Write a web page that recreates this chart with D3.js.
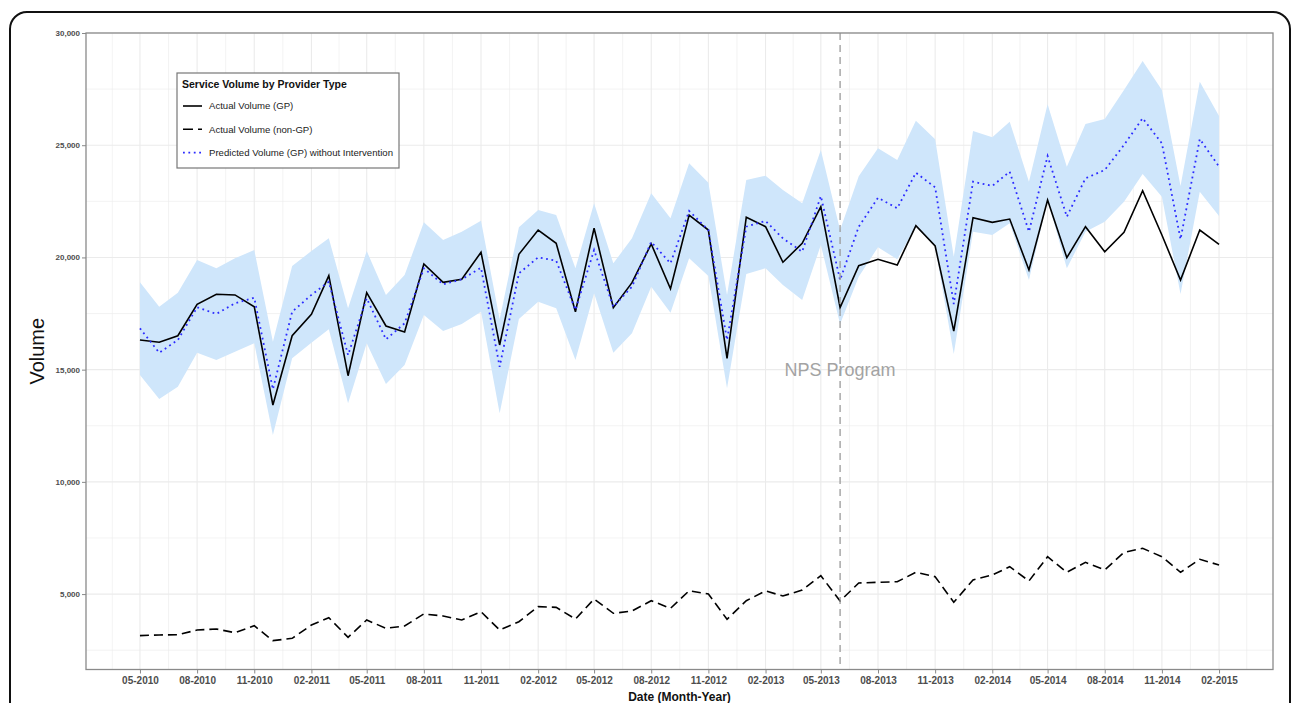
<!DOCTYPE html>
<html>
<head>
<meta charset="utf-8">
<script src="https://cdn.jsdelivr.net/npm/d3@7"></script>
<style>
  body { margin: 0; background: #fff; }
  svg { display: block; font-family: "Liberation Sans", Arial, sans-serif; }
  .grid line { stroke: #ebebeb; }
  .axis text { fill: #4d4d4d; font-weight: bold; }
  .axis line, .axis path { stroke: #888; }
</style>
</head>
<body>
<div id="chart"></div>
<script>
// monthly observations
var months = [
  "2010-05", "2010-06", "2010-07", "2010-08", "2010-09", "2010-10", "2010-11", "2010-12",
  "2011-01", "2011-02", "2011-03", "2011-04", "2011-05", "2011-06", "2011-07", "2011-08", "2011-09", "2011-10", "2011-11", "2011-12",
  "2012-01", "2012-02", "2012-03", "2012-04", "2012-05", "2012-06", "2012-07", "2012-08", "2012-09", "2012-10", "2012-11", "2012-12",
  "2013-01", "2013-02", "2013-03", "2013-04", "2013-05", "2013-06", "2013-07", "2013-08", "2013-09", "2013-10", "2013-11", "2013-12",
  "2014-01", "2014-02", "2014-03", "2014-04", "2014-05", "2014-06", "2014-07", "2014-08", "2014-09", "2014-10", "2014-11", "2014-12",
  "2015-01", "2015-02"
];

var gpActual = [
  16320, 16220, 16510, 17910, 18360, 18330, 17805, 13425, 16510, 17470,
  19190, 14730, 18430, 16945, 16680, 19710, 18890, 19025, 20230, 16100,
  20140, 21220, 20630, 17580, 21300, 17760, 18875, 20600, 18605, 21890,
  21220, 15505, 21790, 21370, 19785, 20630, 22260, 17770, 19630, 19920,
  19660, 21415, 20510, 16720, 21770, 21565, 21710, 19440, 22560, 19990,
  21370, 20255, 21120, 22975, 21000, 18995, 21220, 20585
];

var nonGpActual = [
  3150, 3180, 3190, 3400, 3445, 3280, 3590, 2925, 3030, 3620,
  3950, 3075, 3845, 3475, 3580, 4115, 4025, 3845, 4215, 3400,
  3770, 4440, 4410, 3890, 4780, 4145, 4245, 4705, 4365, 5150,
  5005, 3875, 4705, 5140, 4915, 5180, 5820, 4690, 5495, 5525,
  5550, 5970, 5775, 4635, 5630, 5850, 6220, 5585, 6665, 5970,
  6415, 6075, 6860, 7040, 6665, 5970, 6550, 6295
];

var gpPredicted = [
  16840, 15755, 16320, 17780, 17480, 17960, 18205, 14125, 17580, 18330,
  18920, 15650, 18180, 16350, 17065, 19515, 18800, 19025, 19540, 15130,
  19290, 20005, 19855, 17660, 20330, 17805, 18695, 20690, 19740, 22070,
  21220, 16320, 21370, 21625, 20850, 20255, 22735, 18995, 21370, 22660,
  22190, 23775, 23125, 17925, 23375, 23185, 23820, 21145, 24520, 21815,
  23525, 23895, 25010, 26200, 25085, 20810, 25275, 24045
];

var predUpper = [
  18890, 17805, 18430, 19885, 19515, 19960, 20330, 16245, 19620, 20285,
  20850, 17735, 20285, 18325, 19215, 21565, 20775, 21145, 21635, 17245,
  21345, 22115, 21890, 19515, 22410, 19740, 20850, 22860, 21745, 24195,
  23330, 18325, 23450, 23640, 23005, 22410, 24785, 21220, 23615, 24860,
  24340, 26090, 25265, 20035, 25635, 25355, 26050, 23375, 26825, 24045,
  25945, 26170, 27460, 28750, 27460, 23185, 27830, 26300
];

var predLower = [
  14760, 13690, 14240, 15755, 15430, 15800, 16175, 12090, 15505, 16200,
  16800, 13500, 16175, 14360, 15205, 17435, 16720, 17035, 17580, 13055,
  17255, 18025, 17735, 15430, 18400, 15755, 16620, 18695, 17540, 19960,
  19175, 14170, 19260, 19515, 18770, 18105, 20555, 17035, 19140, 20455,
  19915, 21380, 20480, 15700, 21145, 21000, 21520, 18995, 22560, 19515,
  21145, 21590, 22485, 23715, 22705, 18370, 22930, 21845
];

var xTickLabels = [
  "05-2010", "08-2010", "11-2010", "02-2011", "05-2011", "08-2011", "11-2011",
  "02-2012", "05-2012", "08-2012", "11-2012", "02-2013", "05-2013", "08-2013",
  "11-2013", "02-2014", "05-2014", "08-2014", "11-2014", "02-2015"
];
var yTicks = [5000, 10000, 15000, 20000, 25000, 30000];
var yMinor = [2500, 7500, 12500, 17500, 22500, 27500];
var interventionMonth = "2013-06";

var legendItems = [
  { label: "Actual Volume (GP)", color: "#000", dash: null, width: 1.6 },
  { label: "Actual Volume (non-GP)", color: "#000", dash: "10,5", width: 1.6 },
  { label: "Predicted Volume (GP) without Intervention", color: "#2b2bff", dash: "1.8,3.6", width: 1.8 }
];

var W = 1293, H = 703;
var margin = { top: 33, right: 20, bottom: 33.5, left: 86 },
    width = 1273 - margin.left,
    height = 669.5 - margin.top;

var parseMonth = d3.utcParse("%Y-%m");
var parseTick = d3.utcParse("%m-%Y");

var data = months.map(function (m, i) {
  return {
    date: parseMonth(m),
    gp: gpActual[i],
    nongp: nonGpActual[i],
    pred: gpPredicted[i],
    hi: predUpper[i],
    lo: predLower[i]
  };
});

// ggplot-style 5% expansion of the date range
var ext = d3.extent(data, d => d.date);
var pad = (ext[1] - ext[0]) * 0.05;
var x = d3.scaleUtc()
    .domain([new Date(+ext[0] - pad), new Date(+ext[1] + pad)])
    .range([0, width]);

var y = d3.scaleLinear()
    .domain([1640, 30000])
    .range([height, 0]);

var svg = d3.select('#chart')
    .append('svg')
    .attr('width', W)
    .attr('height', H);

// outer figure frame
svg.append('rect')
    .attr('x', 10)
    .attr('y', 12)
    .attr('width', 1280)
    .attr('height', 740)
    .attr('rx', 17)
    .attr('fill', 'none')
    .attr('stroke', '#111')
    .attr('stroke-width', 2);

var plot = svg.append('g')
    .attr('transform', `translate(${margin.left}, ${margin.top})`);

// grid
var tickDates = xTickLabels.map(parseTick);
var minorDates = [];
var before = d3.utcMonth.offset(tickDates[0], -3);
var after = d3.utcMonth.offset(tickDates[tickDates.length - 1], 3);
var allMajor = [before].concat(tickDates, [after]);
for (var i = 0; i < allMajor.length - 1; i++) {
  minorDates.push(new Date((+allMajor[i] + +allMajor[i + 1]) / 2));
}
minorDates = minorDates.filter(d => x(d) > 0 && x(d) < width);

var grid = plot.append('g').attr('class', 'grid');
grid.selectAll('.ymin')
    .data(yMinor.filter(v => y(v) > 0 && y(v) < height))
    .enter().append('line')
    .attr('x1', 0).attr('x2', width)
    .attr('y1', d => y(d)).attr('y2', d => y(d))
    .attr('stroke-width', 0.6);
grid.selectAll('.xmin')
    .data(minorDates)
    .enter().append('line')
    .attr('y1', 0).attr('y2', height)
    .attr('x1', d => x(d)).attr('x2', d => x(d))
    .attr('stroke-width', 0.6);
grid.selectAll('.ymaj')
    .data(yTicks)
    .enter().append('line')
    .attr('x1', 0).attr('x2', width)
    .attr('y1', d => y(d)).attr('y2', d => y(d))
    .attr('stroke-width', 1.1);
grid.selectAll('.xmaj')
    .data(tickDates)
    .enter().append('line')
    .attr('y1', 0).attr('y2', height)
    .attr('x1', d => x(d)).attr('x2', d => x(d))
    .attr('stroke-width', 1.1);

// prediction interval
var band = d3.area()
    .x(d => x(d.date))
    .y0(d => y(d.lo))
    .y1(d => y(d.hi));

plot.append('path')
    .datum(data)
    .attr('d', band)
    .attr('fill', '#cfe6fb');

var line = function (key) {
  return d3.line().x(d => x(d.date)).y(d => y(d[key]));
};

plot.append('path')
    .datum(data)
    .attr('d', line('gp'))
    .attr('fill', 'none')
    .attr('stroke', legendItems[0].color)
    .attr('stroke-width', legendItems[0].width);

plot.append('path')
    .datum(data)
    .attr('d', line('nongp'))
    .attr('fill', 'none')
    .attr('stroke', legendItems[1].color)
    .attr('stroke-width', legendItems[1].width)
    .attr('stroke-dasharray', "9,5");

plot.append('path')
    .datum(data)
    .attr('d', line('pred'))
    .attr('fill', 'none')
    .attr('stroke', legendItems[2].color)
    .attr('stroke-width', legendItems[2].width)
    .attr('stroke-dasharray', legendItems[2].dash);

// intervention marker
var xi = x(parseMonth(interventionMonth));
plot.append('line')
    .attr('x1', xi).attr('x2', xi)
    .attr('y1', 0).attr('y2', height)
    .attr('stroke', '#9a9a9a')
    .attr('stroke-width', 1.3)
    .attr('stroke-dasharray', '7,5');

plot.append('text')
    .attr('x', xi)
    .attr('y', y(15000))
    .attr('dy', '0.35em')
    .attr('text-anchor', 'middle')
    .attr('font-size', 18)
    .attr('fill', '#a3a3a3')
    .text('NPS Program');

// axes
var xAxis = d3.axisBottom(x)
    .tickValues(tickDates)
    .tickFormat(d3.utcFormat('%m-%Y'))
    .tickSize(4)
    .tickPadding(3);
var yAxis = d3.axisLeft(y)
    .tickValues(yTicks)
    .tickFormat(d3.format(','))
    .tickSize(4)
    .tickPadding(2);

var gx = plot.append('g')
    .attr('class', 'axis x')
    .attr('transform', `translate(0, ${height})`)
    .call(xAxis);
gx.select('.domain').remove();
gx.selectAll('text').attr('font-size', 10);

var gy = plot.append('g')
    .attr('class', 'axis y')
    .call(yAxis);
gy.select('.domain').remove();
gy.selectAll('text').attr('font-size', 8);

// panel border
plot.append('rect')
    .attr('width', width)
    .attr('height', height)
    .attr('fill', 'none')
    .attr('stroke', '#8a8a8a')
    .attr('stroke-width', 1.3);

// axis titles
svg.append('text')
    .attr('x', margin.left + width / 2)
    .attr('y', 701)
    .attr('text-anchor', 'middle')
    .attr('font-size', 12)
    .attr('font-weight', 'bold')
    .attr('fill', '#111')
    .text('Date (Month-Year)');

svg.append('text')
    .attr('transform', `translate(44, ${margin.top + height / 2}) rotate(-90)`)
    .attr('text-anchor', 'middle')
    .attr('font-size', 20)
    .attr('fill', '#111')
    .text('Volume');

// legend
var legend = svg.append('g')
    .attr('transform', 'translate(177, 73)');

legend.append('rect')
    .attr('width', 222)
    .attr('height', 95)
    .attr('fill', '#fff')
    .attr('stroke', '#777')
    .attr('stroke-width', 1.2);

legend.append('text')
    .attr('x', 5)
    .attr('y', 14.5)
    .attr('font-size', 10.5)
    .attr('font-weight', 'bold')
    .attr('fill', '#111')
    .text('Service Volume by Provider Type');

var rows = legend.selectAll('.row')
    .data(legendItems)
    .enter().append('g')
    .attr('class', 'row')
    .attr('transform', (d, i) => `translate(0, ${33 + i * 23.3})`);

rows.append('line')
    .attr('x1', 6).attr('x2', 25)
    .attr('stroke', d => d.color)
    .attr('stroke-width', d => d.width)
    .attr('stroke-dasharray', d => d.dash);

rows.append('text')
    .attr('x', 32)
    .attr('dy', '0.35em')
    .attr('font-size', 9.6)
    .attr('fill', '#222')
    .text(d => d.label);
</script>
</body>
</html>
